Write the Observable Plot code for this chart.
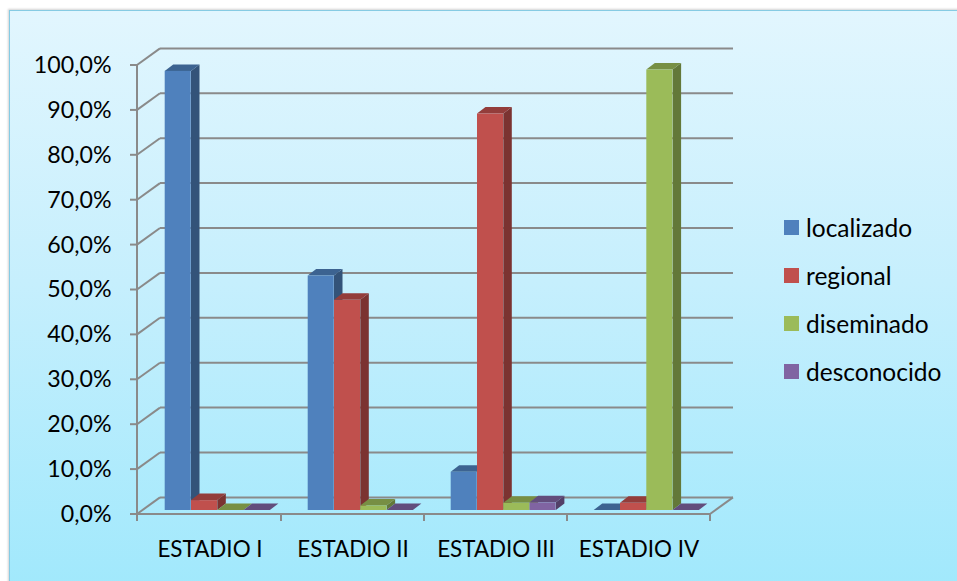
<!DOCTYPE html>
<html>
<head>
<meta charset="utf-8">
<script src="https://cdn.jsdelivr.net/npm/d3@7"></script>
<script src="https://cdn.jsdelivr.net/npm/@observablehq/plot@0.6"></script>
<style>
  html, body { margin: 0; padding: 0; background: #fff; width: 957px; height: 581px; overflow: hidden; }
  body { position: relative; font-family: Lato, "Noto Sans", sans-serif; }
  #panel {
    position: absolute; left: 9px; top: 10px; width: 980px; height: 600px;
    background: linear-gradient(to bottom, #e2f6fe 0%, #c6effd 45%, #9ee8fc 100%);
    border-left: 1.5px solid #86cbe3; border-top: 1.5px solid #86cbe3;
    box-shadow: -1px -1px 2px rgba(0,0,0,0.18);
  }
  #chart { position: absolute; left: 0; top: 0; }
  #chart svg { overflow: visible; }
  #legend { position: absolute; left: 784px; top: 203px; display: flex; flex-direction: column; }
  #legend .item { height: 48px; display: flex; align-items: center; font-size: 24.5px; color: #000; }
  #legend .sw { width: 15px; height: 15px; margin-right: 7px; }
</style>
</head>
<body>
<div id="panel"></div>
<div id="chart"></div>
<div id="legend"></div>
<script>
// Stages on the x axis and the share of each extent per stage
const stages = ["ESTADIO I", "ESTADIO II", "ESTADIO III", "ESTADIO IV"];
const seriesNames = ["localizado", "regional", "diseminado", "desconocido"];
const localizado  = [0.978, 0.522, 0.085, 0.000];
const regional    = [0.022, 0.468, 0.883, 0.016];
const diseminado  = [0.000, 0.010, 0.016, 0.981];
const desconocido = [0.000, 0.000, 0.017, 0.000];
const colors = ["#4f81bd", "#c0504d", "#9bbb59", "#8064a2"];
const yTicks = [0, 0.1, 0.2, 0.3, 0.4, 0.5, 0.6, 0.7, 0.8, 0.9, 1.0];
const yTickLabels = ["0,0%", "10,0%", "20,0%", "30,0%", "40,0%", "50,0%", "60,0%", "70,0%", "80,0%", "90,0%", "100,0%"];

const values = [localizado, regional, diseminado, desconocido];
const rows = stages.flatMap((stage, j) =>
  seriesNames.map((name, i) => ({stage, series: name, value: values[i][j]}))
);

// Layout of the pseudo-3D box
const W = 957, H = 581;
const mLeft = 137, mRight = 247, mTop = 65, mBottom = 67;
const BW = (W - mLeft - mRight) / stages.length;   // width of one stage band
const WALL = [23, -16.6];                           // depth of walls / floor
const BAR_OFF = [5, -4];                            // bars sit a little behind the front edge
const BAR_DEPTH = [8.5, -6.5];                      // depth of each column
const BAR_W = 26.3, BAR_PAD = 21.7;
const GRID = "#8a8a8a";

const insetL = i => BAR_PAD + BAR_W * i;
const insetR = i => BW - BAR_PAD - BAR_W * (i + 1);

// Back wall, side wall, floor and tick marks
function box(index, {x, y}) {
  const g = d3.create("svg:g").attr("fill", "none").attr("stroke", GRID).attr("stroke-width", 2);
  const [xl, xr] = x.range();
  const y0 = y(0);
  for (const t of yTicks) {
    const py = y(t);
    g.append("line").attr("x1", xl + WALL[0]).attr("x2", xr + WALL[0]).attr("y1", py + WALL[1]).attr("y2", py + WALL[1]);
    g.append("line").attr("x1", xl).attr("y1", py).attr("x2", xl + WALL[0]).attr("y2", py + WALL[1]);
    g.append("line").attr("x1", xl - 7).attr("x2", xl).attr("y1", py).attr("y2", py);
  }
  g.append("line").attr("x1", xl).attr("x2", xl).attr("y1", y(1)).attr("y2", y0 + 7);
  g.append("line").attr("x1", xl).attr("x2", xr).attr("y1", y0).attr("y2", y0);
  g.append("line").attr("x1", xr).attr("y1", y0).attr("x2", xr + WALL[0]).attr("y2", y0 + WALL[1]);
  for (const s of stages) {
    const bx = x(s) + x.bandwidth();
    g.append("line").attr("x1", bx).attr("x2", bx).attr("y1", y0).attr("y2", y0 + 7);
  }
  return g.node();
}

// Side and top faces of the columns, drawn left to right
function columnFaces(index, {x, y}) {
  const g = d3.create("svg:g");
  const [bx, by] = BAR_DEPTH;
  stages.forEach((stage, j) => {
    seriesNames.forEach((name, i) => {
      const v = values[i][j];
      const x0 = x(stage) + insetL(i) + BAR_OFF[0];
      const x1 = x0 + BAR_W;
      const yt = y(v) + BAR_OFF[1];
      const yb = y(0) + BAR_OFF[1];
      const c = d3.rgb(colors[i]);
      g.append("polygon")
        .attr("points", [[x1, yt], [x1 + bx, yt + by], [x1 + bx, yb + by], [x1, yb]].join(" "))
        .attr("fill", c.darker(1.25).formatHex());
      g.append("polygon")
        .attr("points", [[x0, yt], [x1, yt], [x1 + bx, yt + by], [x0 + bx, yt + by]].join(" "))
        .attr("fill", c.darker(0.75).formatHex());
    });
  });
  return g.node();
}

const fronts = seriesNames.map((name, i) =>
  Plot.barY(rows.filter(d => d.series === name), {
    x: "stage", y: "value", fill: colors[i],
    dx: BAR_OFF[0], dy: BAR_OFF[1],
    insetLeft: insetL(i), insetRight: insetR(i)
  })
);

const chart = Plot.plot({
  width: W, height: H,
  marginLeft: mLeft, marginRight: mRight, marginTop: mTop, marginBottom: mBottom,
  style: {background: "transparent", fontFamily: "Lato, 'Noto Sans', sans-serif", color: "#000"},
  x: {type: "band", domain: stages, padding: 0, label: null},
  y: {domain: [0, 1], label: null},
  marks: [
    box,
    columnFaces,
    ...fronts,
    Plot.axisY({ticks: yTicks, tickFormat: d => yTickLabels[yTicks.indexOf(d)], tickSize: 0, tickPadding: 26, fontSize: 23.2, label: null}),
    Plot.axisX({tickSize: 0, tickPadding: 27, fontSize: 22.4, label: null})
  ]
});
document.getElementById("chart").appendChild(chart);

// Legend
const legend = d3.select("#legend");
seriesNames.forEach((name, i) => {
  const item = legend.append("div").attr("class", "item");
  item.append("div").attr("class", "sw").style("background", colors[i]);
  item.append("span").text(name);
});
</script>
</body>
</html>
